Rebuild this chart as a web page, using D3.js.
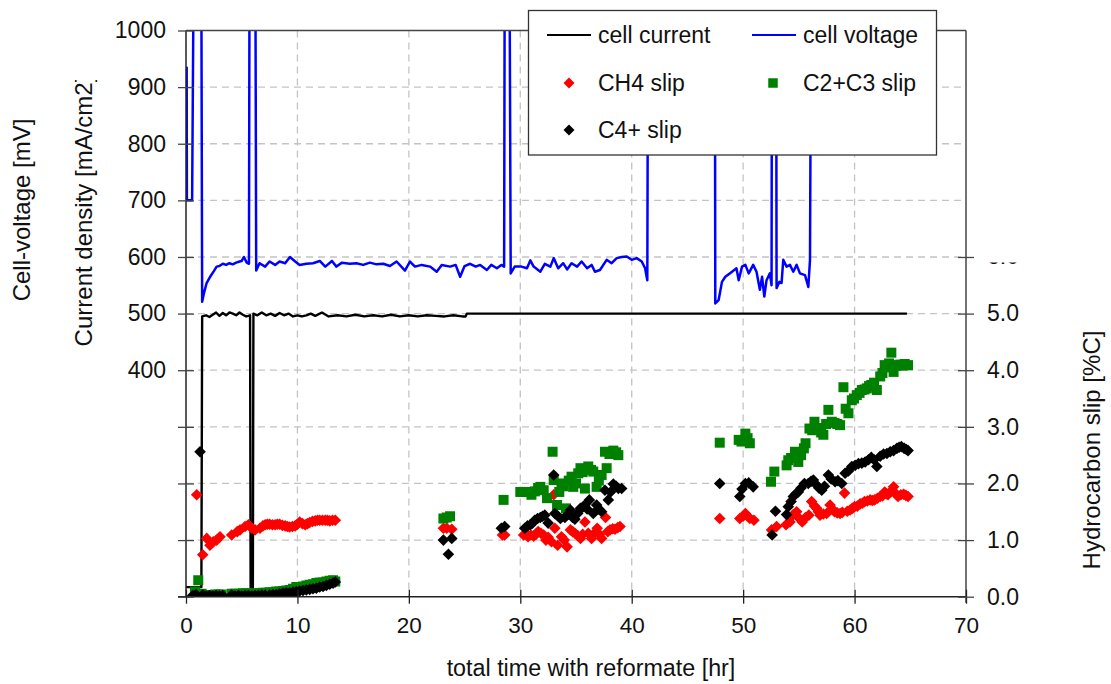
<!DOCTYPE html>
<html>
<head>
<meta charset="utf-8">
<script src="https://cdn.jsdelivr.net/npm/d3@7"></script>
<style>
  html, body { margin: 0; padding: 0; background: #fff; }
  svg { display: block; font-family: "Liberation Sans", Arial, sans-serif; }
</style>
</head>
<body>
<svg id="chart" width="1111" height="684"></svg>
<script>
// ---- cell voltage [mV] over time [hr] (values above 1000 run off the top) ----
const voltageTime = [0.06,0.08,0.5,0.55,0.75,1.35,1.45,1.6,1.85,2.2,2.5,2.75,3.0,3.3,3.6,3.9,4.2,4.5,4.8,5.0,5.2,5.45,5.65,5.72,6.2,6.3,6.6,7.1,7.5,8.0,8.4,8.9,9.33,9.8,10.2,10.8,11.4,12.0,12.5,13.1,13.5,14.0,14.7,15.3,15.9,16.5,17.1,17.7,18.3,18.9,19.65,20.1,20.55,21.15,21.9,22.5,22.95,23.7,24.2,24.6,25.0,25.5,26.0,26.4,27.0,27.4,27.9,28.3,28.55,28.62,29.0,29.14,29.5,30.1,30.6,30.9,31.2,31.8,32.2,32.7,33.0,33.4,33.85,34.2,34.6,35.1,35.5,36.0,36.4,36.7,37.15,37.75,38.2,38.65,39.1,39.55,40.0,40.45,40.9,41.2,41.4,41.5,47.45,47.5,47.8,48.1,48.4,48.8,49.4,49.6,49.9,50.2,50.5,50.9,51.2,51.5,51.7,51.9,52.1,52.4,52.55,52.6,52.95,53.0,53.25,53.45,53.6,53.9,54.2,54.5,54.8,55.1,55.55,55.85,56.0,56.15,64.7];
const voltageValue = [936,700,700,700,1300,1300,521,535,554,566,575,583,584,588,586,589,587,590,592,593,600,590,588,1300,1300,576,589,583,592,586,592,589,600,592,586,588,589,593,583,593,583,590,588,589,586,590,587,588,584,592,576,592,583,586,583,574,586,583,586,565,584,588,583,586,577,586,580,586,583,1300,1300,571,583,583,580,594,583,574,588,583,598,580,589,578,589,583,592,580,586,574,577,595,589,598,600,601,595,598,592,580,559,1300,1300,518,524,556,565,571,580,559,583,586,571,586,574,542,565,530,559,571,550,1300,1300,545,556,554,595,583,586,574,586,571,568,547,595,1300,1300];

// ---- cell current density [mA/cm2] over time [hr] ----
const currentTime = [0,1.38,1.45,1.8,2.1,2.4,2.7,3.0,3.3,3.6,3.9,4.2,4.5,4.8,5.1,5.4,5.6,5.75,5.8,6.0,6.05,6.4,6.8,7.2,7.6,8.0,8.4,8.8,9.2,9.6,10.0,10.4,10.8,11.2,11.6,12.2,12.8,13.6,14.4,15.2,16.0,16.8,17.6,18.4,19.2,20.0,20.8,21.6,22.4,23.2,24.0,24.8,25.1,25.2,64.7];
const currentValue = [17,17,495,497,494,498,502,496,501,497,502,500,497,502,498,495,496,497,15,15,500,497,502,497,500,496,501,497,500,495,497,495,497,500,496,502,495,497,495,498,495,497,495,498,495,497,495,497,496,495,497,495,495,500,500];

// ---- hydrocarbon slip [%C] ----
const ch4Time = [0.96,1.5,1.86,2.15,2.45,2.75,3.05,4.1,4.6,4.85,5.3,5.6,5.9,6.2,6.64,6.9,7.1,7.3,7.5,7.75,8.0,8.2,8.4,8.65,8.9,9.1,9.3,9.55,9.8,10.0,10.2,10.45,10.7,10.9,11.1,11.35,11.6,11.8,12.0,12.25,12.5,12.7,12.9,13.15,13.4,23.1,23.4,23.85,28.4,28.6,30.3,30.5,30.7,30.95,31.2,31.4,31.6,31.85,32.1,32.3,32.5,32.8,33.0,33.1,33.35,33.7,33.95,34.2,34.5,34.7,34.9,35.15,35.4,35.6,35.8,36.1,36.4,36.65,36.9,37.1,37.3,37.65,37.85,38.05,38.3,38.5,38.75,38.95,47.9,49.7,50.0,50.2,50.4,50.6,50.97,52.55,53.0,53.85,54.2,54.5,54.8,55.05,55.3,55.6,55.9,56.15,56.4,56.6,56.75,56.9,57.2,57.5,57.8,58.0,58.2,58.45,58.7,58.9,59.1,59.35,59.6,59.8,60.0,60.25,60.5,60.7,60.9,61.15,61.4,61.6,61.8,62.05,62.3,62.5,62.7,62.85,63.0,63.25,63.5,63.7,63.9,64.15,64.4,64.6,64.8];
const ch4Slip = [1.80,0.74,1.03,0.91,0.97,1.00,1.06,1.09,1.15,1.18,1.24,1.27,1.21,1.18,1.21,1.25,1.27,1.28,1.28,1.27,1.27,1.28,1.28,1.26,1.25,1.24,1.23,1.24,1.25,1.28,1.32,1.29,1.27,1.29,1.31,1.33,1.34,1.35,1.35,1.35,1.35,1.35,1.34,1.35,1.35,1.21,1.21,1.19,1.09,1.09,1.09,1.12,1.06,1.09,1.07,1.10,1.15,1.12,1.09,1.00,1.05,0.97,1.80,1.21,0.91,1.06,1.00,0.88,1.18,1.15,1.12,1.08,1.03,1.10,1.32,1.12,1.03,1.12,1.21,1.10,1.03,1.40,1.15,1.18,1.20,1.19,1.22,1.24,1.38,1.38,1.42,1.47,1.42,1.38,1.35,1.18,1.24,1.27,1.32,1.45,1.50,1.38,1.32,1.40,1.44,1.68,1.60,1.56,1.50,1.44,1.46,1.47,1.62,1.55,1.50,1.48,1.47,1.49,1.83,1.51,1.53,1.56,1.59,1.60,1.64,1.65,1.68,1.69,1.71,1.70,1.71,1.74,1.77,1.78,1.85,1.82,1.80,1.86,1.94,1.82,1.77,1.80,1.81,1.79,1.77];

const c23Time = [0.8,1.1,1.4,1.7,2.0,2.3,2.6,2.9,3.2,4.1,4.4,4.8,5.1,5.4,5.7,6.0,6.3,6.6,6.9,7.2,7.5,7.8,8.1,8.4,8.7,9.0,9.3,9.6,9.9,10.2,10.5,10.8,11.1,11.4,11.7,12.0,12.3,12.6,12.9,13.2,13.4,23.1,23.4,23.7,28.5,30.0,30.3,30.6,31.0,31.3,31.6,31.8,32.1,32.4,32.9,33.0,33.3,33.5,33.7,33.9,34.1,34.35,34.6,34.75,35.0,35.2,35.4,35.6,35.8,36.1,36.35,36.55,36.85,37.05,37.3,37.6,37.75,38.0,38.35,38.6,38.8,47.9,49.6,49.85,50.2,50.4,50.6,52.5,52.8,53.9,54.05,54.3,54.65,54.95,55.2,55.45,55.6,55.95,56.2,56.4,56.7,57.0,57.2,57.45,57.65,57.95,58.2,58.45,58.7,59.0,59.2,59.45,59.75,59.95,60.2,60.45,60.65,60.9,61.1,61.3,61.5,61.75,62.0,62.3,62.5,62.7,62.95,63.1,63.3,63.5,63.7,63.9,64.1,64.3,64.5,64.8];
const c23Slip = [0.09,0.29,0.05,0.02,0.03,0.03,0.04,0.04,0.04,0.05,0.05,0.05,0.06,0.06,0.06,0.05,0.06,0.06,0.07,0.07,0.08,0.08,0.09,0.09,0.10,0.11,0.12,0.14,0.17,0.17,0.18,0.20,0.21,0.22,0.24,0.25,0.25,0.27,0.28,0.29,0.27,1.38,1.40,1.42,1.71,1.85,1.85,1.85,1.80,1.86,1.92,1.94,1.88,1.74,2.56,2.06,1.62,1.85,2.00,1.95,1.56,2.05,2.12,1.94,2.00,2.18,2.27,2.20,1.91,2.30,2.24,2.21,1.94,2.05,2.15,2.56,2.27,2.52,2.58,2.55,2.50,2.72,2.77,2.74,2.88,2.80,2.71,2.03,2.21,2.32,2.41,2.45,2.56,2.38,2.50,2.62,2.71,2.97,2.94,3.09,2.98,2.90,2.86,3.05,3.30,3.09,3.07,3.05,3.03,3.70,3.32,3.24,3.47,3.50,3.56,3.60,3.65,3.66,3.68,3.72,3.74,3.78,3.65,3.89,3.95,4.09,4.05,4.12,4.31,3.97,4.08,4.09,4.10,4.08,4.11,4.09];

const c4Time = [0.6,0.9,1.26,1.5,1.8,2.1,2.4,2.7,3.0,3.3,4.1,4.4,4.7,5.0,5.3,5.6,5.9,6.2,6.5,6.8,7.1,7.5,7.8,8.1,8.4,8.7,9.0,9.3,9.6,9.9,10.2,10.5,10.8,11.1,11.4,11.7,12.0,12.3,12.6,12.9,13.2,13.4,23.1,23.55,23.85,28.3,28.6,30.4,30.65,30.9,31.1,31.3,31.55,31.8,32.0,32.2,32.5,33.0,33.1,33.35,33.6,34.0,34.25,34.5,34.7,34.9,35.15,35.4,35.6,35.8,36.0,36.2,36.55,36.85,37.05,37.3,37.6,37.9,38.1,38.35,38.6,38.8,39.1,47.9,49.7,49.9,50.2,50.5,50.9,52.6,52.9,53.9,54.05,54.3,54.5,54.75,54.95,55.2,55.5,55.85,56.1,56.3,56.55,56.8,57.05,57.3,57.65,57.9,58.25,58.5,58.85,59.15,59.45,59.75,60.05,60.35,60.65,60.95,61.25,61.5,61.75,62.0,62.3,62.6,62.9,63.2,63.5,63.8,64.0,64.2,64.45,64.65,64.8];
const c4Slip = [0.02,0.04,2.56,0.03,0.01,0.02,0.01,0.02,0.01,0.02,0.03,0.01,0.02,0.01,0.02,0.02,0.01,0.02,0.02,0.03,0.03,0.03,0.04,0.04,0.05,0.06,0.07,0.07,0.08,0.09,0.10,0.11,0.12,0.13,0.14,0.15,0.17,0.18,0.20,0.22,0.24,0.26,1.00,0.75,1.03,1.21,1.24,1.21,1.25,1.27,1.30,1.35,1.38,1.40,1.42,1.44,1.30,2.15,1.47,1.43,1.38,1.40,1.45,1.53,1.40,1.37,1.47,1.56,1.58,1.62,1.55,1.71,1.47,1.62,1.55,1.50,1.88,1.71,1.85,1.99,1.95,1.91,1.91,2.00,1.77,1.90,2.00,2.01,1.94,1.09,1.51,1.45,1.59,1.68,1.77,1.82,1.85,1.92,2.00,2.00,2.04,2.06,1.98,1.92,1.88,1.95,2.15,2.08,2.03,2.05,2.00,2.18,2.22,2.30,2.32,2.35,2.36,2.38,2.42,2.46,2.42,2.30,2.48,2.52,2.53,2.56,2.58,2.62,2.64,2.65,2.62,2.60,2.58];

// ---- axis ticks ----
const timeTicks = [0,10,20,30,40,50,60,70];
const mvTicks = [0,100,200,300,400,500,600,700,800,900,1000];
const mvLabelled = [400,500,600,700,800,900,1000];
const slipTicks = [0,1,2,3,4,5,6];

// ---- layout ----
const pLeft = 186, pRight = 966, pTop = 30.5, pBottom = 596.7;
const svg = d3.select("#chart");
const defs = svg.append("defs");

const x = d3.scaleLinear().domain([0, 70]).range([pLeft, pRight]);
const yMv = d3.scaleLinear().domain([0, 1000]).range([pBottom, pTop]);
const ySlip = d3.scaleLinear().domain([0, 10]).range([pBottom, pTop]);

const gridColor = "#c4c4c4";
const textColor = "#111";
const fontFamily = "Liberation Sans, Arial, sans-serif";

// dashed grid
const grid = svg.append("g");
grid.selectAll(".hg").data(mvTicks.filter(d => d > 0 && d < 1000)).join("line")
  .attr("x1", pLeft).attr("x2", pRight)
  .attr("y1", d => yMv(d)).attr("y2", d => yMv(d))
  .attr("stroke", gridColor).attr("stroke-width", 1.3).attr("stroke-dasharray", "7,5");
grid.selectAll(".vg").data(timeTicks.filter(d => d > 0 && d < 70)).join("line")
  .attr("x1", d => x(d)).attr("x2", d => x(d))
  .attr("y1", pTop).attr("y2", pBottom)
  .attr("stroke", gridColor).attr("stroke-width", 1.3).attr("stroke-dasharray", "7,5");

// clip for the data
defs.append("clipPath").attr("id", "plotClip")
  .append("rect").attr("x", pLeft).attr("y", pTop).attr("width", pRight - pLeft).attr("height", pBottom - pTop);

const plot = svg.append("g").attr("clip-path", "url(#plotClip)");

const lineV = d3.line().x((d, i) => x(voltageTime[i])).y(d => yMv(d));
const lineC = d3.line().x((d, i) => x(currentTime[i])).y(d => yMv(d));

plot.append("path").datum(currentValue).attr("d", lineC)
  .attr("fill", "none").attr("stroke", "#000").attr("stroke-width", 2.4).attr("stroke-linejoin", "round");
plot.append("path").datum(voltageValue).attr("d", lineV)
  .attr("fill", "none").attr("stroke", "#0000ff").attr("stroke-width", 2.5).attr("stroke-linejoin", "round");

// markers
function diamond(r) { return `M0,${-r}L${r},0L0,${r}L${-r},0Z`; }
function square(s) { return `M${-s/2},${-s/2}h${s}v${s}h${-s}Z`; }

function scatter(times, vals, shape, color) {
  plot.append("g").selectAll("path").data(vals).join("path")
    .attr("d", shape)
    .attr("transform", (d, i) => `translate(${x(times[i])},${ySlip(d)})`)
    .attr("fill", color);
}
scatter(ch4Time, ch4Slip, diamond(5.8), "#ff0000");
scatter(c23Time, c23Slip, square(10), "#008000");
scatter(c4Time, c4Slip, diamond(5.8), "#000000");

// frame & axis lines
svg.append("line").attr("x1", pLeft).attr("x2", pRight).attr("y1", pTop).attr("y2", pTop)
  .attr("stroke", "#444").attr("stroke-width", 1.3);
svg.append("line").attr("x1", pLeft).attr("x2", pLeft).attr("y1", pTop).attr("y2", pBottom)
  .attr("stroke", "#222").attr("stroke-width", 1.5);
svg.append("line").attr("x1", pRight).attr("x2", pRight).attr("y1", pTop).attr("y2", pBottom + 6)
  .attr("stroke", "#444").attr("stroke-width", 1.5);
svg.append("line").attr("x1", pLeft - 8).attr("x2", pRight).attr("y1", pBottom).attr("y2", pBottom)
  .attr("stroke", "#222").attr("stroke-width", 1.5);

// left axis (mV)
const axL = svg.append("g").attr("transform", `translate(${pLeft},0)`)
  .call(d3.axisLeft(yMv).tickValues(mvTicks).tickSize(8)
    .tickFormat(d => mvLabelled.includes(d) ? d : ""));
axL.select(".domain").remove();
axL.selectAll(".tick line").attr("x1", 8).attr("stroke", "#444").attr("stroke-width", 1.3);
axL.selectAll(".tick text").attr("x", -20).attr("font-size", 23).attr("fill", textColor)
  .attr("font-family", fontFamily);

// bottom axis (time)
const axB = svg.append("g").attr("transform", `translate(0,${pBottom})`)
  .call(d3.axisBottom(x).tickValues(timeTicks).tickSize(7));
axB.select(".domain").remove();
axB.selectAll(".tick line").attr("y1", -7).attr("stroke", "#222").attr("stroke-width", 1.3);
axB.selectAll(".tick text").attr("y", 20).attr("font-size", 22.5).attr("fill", textColor)
  .attr("font-family", fontFamily);

// right axis (slip)
const slipFormat = d3.format(".1f");
const axR = svg.append("g").attr("transform", `translate(${pRight},0)`)
  .call(d3.axisRight(ySlip).tickValues(slipTicks).tickSize(8)
    .tickFormat(d => d === 6 ? "" : slipFormat(d)));
axR.select(".domain").remove();
axR.selectAll(".tick line").attr("x1", -8).attr("stroke", "#444").attr("stroke-width", 1.3);
axR.selectAll(".tick text").attr("x", 21).attr("font-size", 23).attr("fill", textColor)
  .attr("font-family", fontFamily);

// the topmost slip label is mostly covered; only its lower edge shows
defs.append("clipPath").attr("id", "rightLabelClip")
  .append("rect").attr("x", pRight).attr("y", 262.5).attr("width", 140).attr("height", 20);
svg.append("g").attr("clip-path", "url(#rightLabelClip)")
  .append("text").attr("x", pRight + 21).attr("y", ySlip(6)).attr("dy", "0.32em")
  .attr("font-size", 23).attr("fill", textColor).attr("font-family", fontFamily)
  .text(slipFormat(6));

// axis titles
svg.append("text").attr("transform", "translate(30,210) rotate(-90)")
  .attr("text-anchor", "middle").attr("font-size", 24).attr("fill", textColor)
  .text("Cell-voltage [mV]");

defs.append("clipPath").attr("id", "cdClip")
  .append("rect").attr("x", 0).attr("y", 80).attr("width", 120).attr("height", 400);
svg.append("g").attr("clip-path", "url(#cdClip)")
  .append("text").attr("transform", "translate(92,211) rotate(-90)")
  .attr("text-anchor", "middle").attr("font-size", 24).attr("fill", textColor)
  .text("Current density [mA/cm2]");

svg.append("text").attr("transform", "translate(1100,450) rotate(-90)")
  .attr("text-anchor", "middle").attr("font-size", 24).attr("fill", textColor)
  .text("Hydrocarbon slip [%C]");

svg.append("text").attr("x", 591).attr("y", 676)
  .attr("text-anchor", "middle").attr("font-size", 23.3).attr("fill", textColor)
  .text("total time with reformate [hr]");

// legend
const leg = svg.append("g");
leg.append("rect").attr("x", 528.5).attr("y", 10.5).attr("width", 408).attr("height", 144.5)
  .attr("fill", "#fff").attr("stroke", "#333").attr("stroke-width", 1.3);

const legendItems = [
  {label: "cell current", kind: "line", color: "#000", lx: 547, tx: 598, y: 35},
  {label: "cell voltage", kind: "line", color: "#0000ff", lx: 752, tx: 803, y: 35},
  {label: "CH4 slip", kind: "diamond", color: "#ff0000", lx: 569, tx: 598, y: 83},
  {label: "C2+C3 slip", kind: "square", color: "#008000", lx: 773, tx: 803, y: 83},
  {label: "C4+ slip", kind: "diamond", color: "#000", lx: 569, tx: 598, y: 130}
];
legendItems.forEach(it => {
  if (it.kind === "line") {
    leg.append("line").attr("x1", it.lx).attr("x2", it.lx + 44).attr("y1", it.y).attr("y2", it.y)
      .attr("stroke", it.color).attr("stroke-width", 2.2);
  } else {
    leg.append("path").attr("d", it.kind === "square" ? square(9.5) : diamond(5.5))
      .attr("transform", `translate(${it.lx},${it.y})`).attr("fill", it.color);
  }
  leg.append("text").attr("x", it.tx).attr("y", it.y).attr("dy", "0.35em")
    .attr("font-size", 23).attr("fill", textColor).text(it.label);
});
</script>
</body>
</html>
